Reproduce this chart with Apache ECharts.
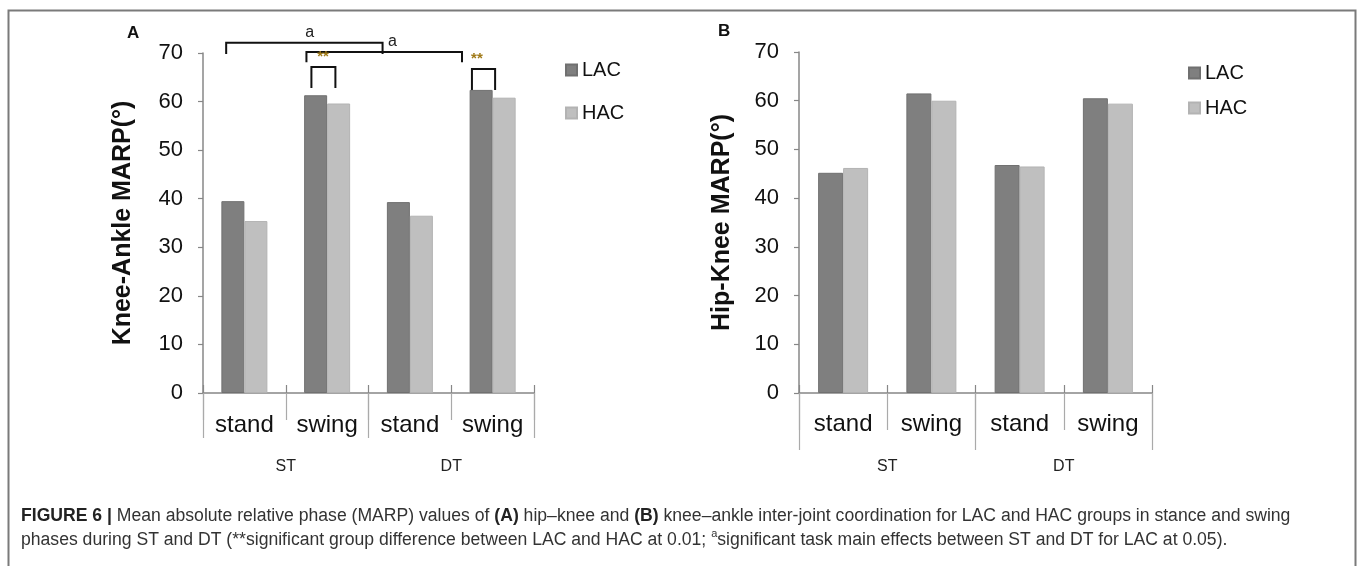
<!DOCTYPE html>
<html>
<head>
<meta charset="utf-8">
<script src="https://cdn.jsdelivr.net/npm/echarts@6/dist/echarts.min.js"></script>
<style>
html,body{margin:0;padding:0;background:#fff;}
#chart{width:1360px;height:566px;}
</style>
</head>
<body>
<div id="chart"></div>
<script>
// ---- data ----
const phases = ['stand', 'swing', 'stand', 'swing'];
const tasks = ['ST', 'DT'];
const yTicksMax = 70;
const seriesNames = ['LAC', 'HAC'];
const kneeAnkleLAC = [39.5, 61.3, 39.3, 62.4];
const kneeAnkleHAC = [35.4, 59.6, 36.5, 60.8];
const hipKneeLAC = [45.2, 61.5, 46.8, 60.5];
const hipKneeHAC = [46.2, 60.0, 46.5, 59.4];
// brackets in data space: [xStart, xEnd, yTop, yLegEnd] (x = category index position)
const brackets = [
  [-0.22, 1.67, 72.1, 69.8],
  [0.75, 2.63, 70.2, 68.1],
  [0.81, 1.10, 67.1, 62.8],
  [2.75, 3.03, 66.7, 62.4]
];
const bracketLabels = ['a', 'a', '**', '**'];
const bracketLabelPos = [[0.79, 72.6], [1.79, 70.7], [0.95, 67.6], [2.81, 67.2]];

const AXIS_COLOR = '#878787';
const FONT = "'Liberation Sans', Arial, sans-serif";
const C_LAC = '#7f7f7f';
const C_HAC = '#bfbfbf';

const chart = echarts.init(document.getElementById('chart'), null, {renderer: 'canvas'});

function catAxis(grid, tickLen, labelMargin) {
  return {
    type: 'category', gridIndex: grid, data: phases, position: 'bottom',
    axisLine: {show: true, onZero: false, lineStyle: {color: AXIS_COLOR, width: 1.5}},
    axisTick: {show: true, interval: 0, length: tickLen, lineStyle: {color: '#aaaaaa', width: 1.2}},
    axisLabel: {interval: 0, fontSize: 24, color: '#111', fontFamily: FONT, margin: labelMargin},
    splitLine: {show: false}
  };
}
function groupAxis(grid, tickLen, labelMargin) {
  return {
    type: 'category', gridIndex: grid, data: tasks, position: 'bottom',
    axisLine: {show: false, onZero: false},
    axisTick: {show: true, interval: 0, length: tickLen, lineStyle: {color: '#aaaaaa', width: 1.2}},
    axisLabel: {interval: 0, fontSize: 16, color: '#222', fontFamily: FONT, margin: labelMargin},
    splitLine: {show: false}
  };
}
function upTickAxis(grid) {
  return {
    type: 'category', gridIndex: grid, data: phases, position: 'bottom',
    axisLine: {show: false, onZero: false},
    axisTick: {show: true, inside: true, interval: 0, length: 8, lineStyle: {color: AXIS_COLOR, width: 1.2}},
    axisLabel: {show: false}, splitLine: {show: false}
  };
}
function valAxis(grid, name, nameGap) {
  return {
    type: 'value', gridIndex: grid, min: 0, max: yTicksMax, interval: 10, position: 'left',
    name: name, nameLocation: 'middle', nameGap: nameGap, nameRotate: 90,
    nameTextStyle: {fontSize: 25, fontWeight: 'bold', color: '#111', fontFamily: FONT},
    axisLine: {show: true, onZero: false, lineStyle: {color: AXIS_COLOR, width: 1.5}},
    axisTick: {show: true, length: 5, lineStyle: {color: AXIS_COLOR, width: 1.2}},
    axisLabel: {fontSize: 22, color: '#111', fontFamily: FONT, margin: 20},
    splitLine: {show: false}
  };
}

const option = {
  animation: false,
  backgroundColor: '#fff',
  grid: [
    {left: 203, top: 53, width: 331, height: 340},
    {left: 799, top: 52, width: 353, height: 341}
  ],
  xAxis: [
    catAxis(0, 27, 20),
    groupAxis(0, 45, 66),
    upTickAxis(0),
    {type: 'value', gridIndex: 0, min: -0.5, max: 3.5, show: false, axisLine: {onZero: false}},
    catAxis(1, 37, 19),
    groupAxis(1, 57, 66),
    upTickAxis(1)
  ],
  yAxis: [
    valAxis(0, 'Knee-Ankle MARP(°)', 67),
    valAxis(1, 'Hip-Knee MARP(°)', 64)
  ],
  legend: [
    {orient: 'vertical', left: 560, top: 55, itemWidth: 11, itemHeight: 11, itemGap: 23, icon: 'rect',
     data: seriesNames, textStyle: {fontSize: 20, color: '#111', fontFamily: FONT}, selectedMode: false},
    {orient: 'vertical', left: 1183, top: 58, itemWidth: 11, itemHeight: 11, itemGap: 15, icon: 'rect',
     data: seriesNames, textStyle: {fontSize: 20, color: '#111', fontFamily: FONT}, selectedMode: false}
  ],
  series: [
    {name: 'LAC', type: 'bar', xAxisIndex: 0, yAxisIndex: 0, data: kneeAnkleLAC, barWidth: 23, barGap: '0%',
     itemStyle: {color: C_LAC, borderColor: '#707070', borderWidth: 1}},
    {name: 'HAC', type: 'bar', xAxisIndex: 0, yAxisIndex: 0, data: kneeAnkleHAC, barWidth: 23, barGap: '0%',
     itemStyle: {color: C_HAC, borderColor: '#b3b3b3', borderWidth: 1}},
    {name: 'LAC', type: 'bar', xAxisIndex: 4, yAxisIndex: 1, data: hipKneeLAC, barWidth: 25, barGap: '0%',
     itemStyle: {color: C_LAC, borderColor: '#707070', borderWidth: 1}},
    {name: 'HAC', type: 'bar', xAxisIndex: 4, yAxisIndex: 1, data: hipKneeHAC, barWidth: 25, barGap: '0%',
     itemStyle: {color: C_HAC, borderColor: '#b3b3b3', borderWidth: 1}},
    {
      name: 'brackets', type: 'custom', xAxisIndex: 3, yAxisIndex: 0, clip: false, silent: true,
      data: brackets, encode: {x: [0, 1], y: [2, 3]},
      renderItem: function (params, api) {
        const x1 = api.value(0), x2 = api.value(1), yt = api.value(2), yb = api.value(3);
        const pts = [api.coord([x1, yb]), api.coord([x1, yt]), api.coord([x2, yt]), api.coord([x2, yb])];
        return {type: 'polyline', shape: {points: pts}, style: {stroke: '#111', lineWidth: 2, fill: null}};
      }
    },
    {
      name: 'bracketText', type: 'custom', xAxisIndex: 3, yAxisIndex: 0, clip: false, silent: true,
      data: bracketLabelPos, encode: {x: 0, y: 1},
      renderItem: function (params, api) {
        const p = api.coord([api.value(0), api.value(1)]);
        const t = bracketLabels[params.dataIndex];
        const star = t === '**';
        return {type: 'text', x: p[0], y: p[1], style: {
          text: t, textAlign: 'center', textVerticalAlign: 'bottom',
          font: (star ? 'bold 15px ' : '16px ') + FONT,
          fill: star ? '#a07a18' : '#222'
        }};
      }
    }
  ],
  graphic: [
    {type: 'polyline', silent: true, shape: {points: [[8.5, 570], [8.5, 10.5], [1355.5, 10.5], [1355.5, 570]]},
     style: {stroke: '#7a7a7a', lineWidth: 2, fill: null}},
    {type: 'text', left: 127, top: 25, style: {text: 'A', font: 'bold 17px ' + FONT, fill: '#111'}},
    {type: 'text', left: 718, top: 23, style: {text: 'B', font: 'bold 17px ' + FONT, fill: '#111'}},
    {type: 'text', left: 21, top: 504, style: {
      text: '{b|FIGURE 6 |} Mean absolute relative phase (MARP) values of {b|(A)} hip–knee and {b|(B)} knee–ankle inter-joint coordination for LAC and HAC groups in stance and swing\nphases during ST and DT (**significant group difference between LAC and HAC at 0.01; {sup|a}significant task main effects between ST and DT for LAC at 0.05).',
      font: "17.6px 'Liberation Sans', Arial, sans-serif",
      fill: '#333', lineHeight: 24,
      rich: {
        b: {font: "bold 17.6px 'Liberation Sans', Arial, sans-serif", fill: '#222', lineHeight: 24},
        sup: {font: "11px 'Liberation Sans', Arial, sans-serif", fill: '#333', verticalAlign: 'top', lineHeight: 24}
      }
    }}
  ]
};
chart.setOption(option);
</script>
</body>
</html>
